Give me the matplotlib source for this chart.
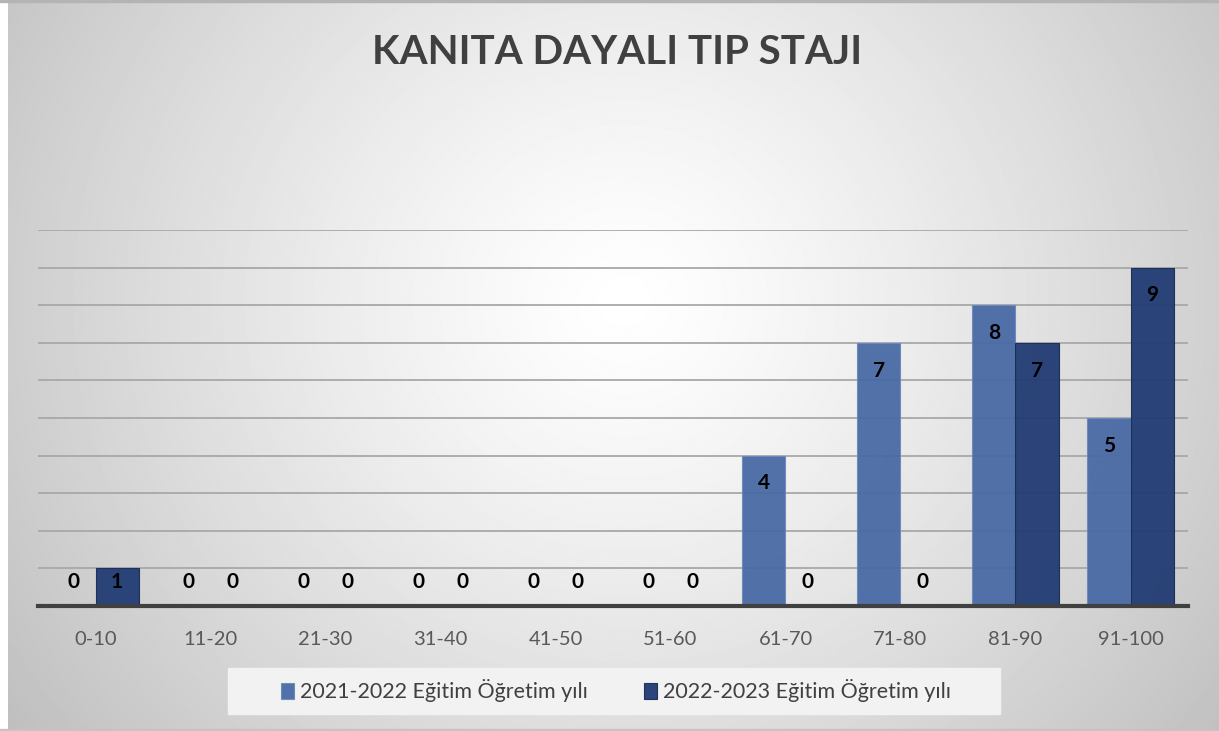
import matplotlib.pyplot as plt
import numpy as np

plt.rcParams['font.family'] = ['Lato', 'DejaVu Sans']

categories = ['0-10', '11-20', '21-30', '31-40', '41-50',
              '51-60', '61-70', '71-80', '81-90', '91-100']
values_2021 = [0, 0, 0, 0, 0, 0, 4, 7, 8, 5]
values_2022 = [1, 0, 0, 0, 0, 0, 0, 0, 7, 9]
series_names = ['2021-2022 Eğitim Öğretim yılı', '2022-2023 Eğitim Öğretim yılı']

W, H = 1219, 731
fig = plt.figure(figsize=(W / 100, H / 100), dpi=100)

# radial gray background behind everything
bg = fig.add_axes([8 / W, 2 / H, 1 - 8 / W, 1 - 4 / H], zorder=-10)
yy, xx = np.mgrid[0:H, 0:W]
r = np.hypot((xx - 620) / 1.0, (yy - 300) / 0.95)
shade = 1 - 0.19 * (r / 612) ** 1.25
shade = np.clip(shade, 0.74, 1.0)
bg.imshow(shade, cmap='gray', vmin=0, vmax=1, aspect='auto',
          extent=[0, 1, 0, 1], interpolation='bilinear')
bg.axis('off')
fig.patches.append(plt.Rectangle((0, 0), 1, 2 / H, transform=fig.transFigure,
                                 color='#c4c4c4', zorder=-5))
fig.patches.append(plt.Rectangle((0, 1 - 2 / H), 1, 2 / H, transform=fig.transFigure,
                                 color='#b4b4b4', zorder=-5))

ax = fig.add_axes([38 / W, 125 / H, 1150 / W, 376 / H])
ax.patch.set_alpha(0)

x = np.arange(len(categories))
bw = 0.374
light, dark = '#4a6aa5', '#213b73'
b1 = ax.bar(x - bw / 2, values_2021, bw, color=light, edgecolor='#6d89bd',
            linewidth=0.8, alpha=0.95, zorder=3, label=series_names[0])
b2 = ax.bar(x + bw / 2, values_2022, bw, color=dark, edgecolor='#1a2c55',
            linewidth=0.8, alpha=0.95, zorder=3, label=series_names[1])

# value labels sit just inside the top of each bar
for xs, vals in ((x - bw / 2, values_2021), (x + bw / 2, values_2022)):
    for xi, v in zip(xs, vals):
        ax.text(xi, max(v - 0.74, 0.63), str(v), ha='center', va='center',
                fontsize=15, fontweight='bold', color='black', zorder=5)

ax.set_xlim(-0.5, len(categories) - 0.5)
ax.set_ylim(0, 10)
ax.set_yticks(np.arange(1, 11))
ax.yaxis.grid(True, color='#a8a8a8', linewidth=1.3, zorder=1)
ax.tick_params(axis='y', left=False, labelleft=False)
ax.set_xticks(x)
ax.set_xticklabels(categories, fontsize=14.5, color='#595959')
ax.tick_params(axis='x', length=0, pad=18)
for s in ('top', 'right', 'left'):
    ax.spines[s].set_visible(False)
ax.spines['bottom'].set_color('#404040')
ax.spines['bottom'].set_linewidth(3)
ax.spines['bottom'].set_zorder(6)

fig.text(0.506, 1 - 53 / H, 'KANITA DAYALI TIP STAJI', ha='center', va='center',
         fontsize=29, fontweight='bold', color='#404040')

# legend sits on a pale panel
fig.patches.append(plt.Rectangle((228 / W, (H - 714) / H), 772 / W, 46 / H,
                                 transform=fig.transFigure, color='#f2f2f2', zorder=1))
leg = fig.legend(handles=[b1, b2], loc='center', bbox_to_anchor=(616 / W, 40 / H),
                 ncol=2, frameon=False, fontsize=15.5, handlelength=0.6,
                 handleheight=0.75, handletextpad=0.3, columnspacing=2.6,
                 borderaxespad=0)
leg.set_zorder(2)
for t in leg.get_texts():
    t.set_color('#404040')

fig.savefig('out.png', dpi=100)
